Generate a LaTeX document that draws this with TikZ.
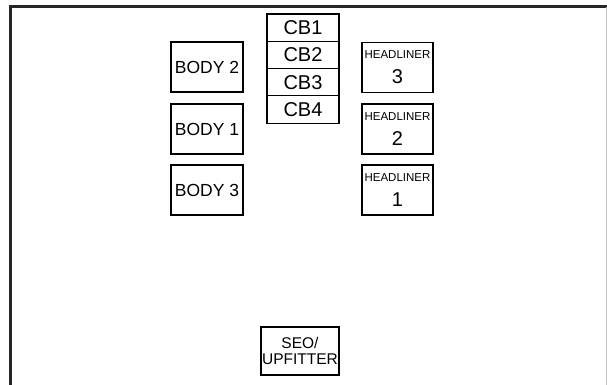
\documentclass[tikz,border=0pt]{standalone}
\usepackage{fontspec}
\setmainfont{Liberation Sans}
\begin{document}
\begin{tikzpicture}[x=1pt,y=-1pt,
  fusebox/.style={draw=black,line width=1.3pt,rectangle,inner sep=0pt,align=center},
  bodybox/.style={fusebox,minimum width=72pt,minimum height=50pt,font=\fontsize{17.5}{20}\selectfont},
  hlbox/.style={fusebox,minimum width=71pt,minimum height=50pt,font=\fontsize{11.5}{25}\selectfont},
  cbbox/.style={fusebox,minimum width=72pt,minimum height=27.3pt,font=\fontsize{20}{22}\selectfont},
  seobox/.style={fusebox,minimum width=78pt,minimum height=48pt,font=\fontsize{15.5}{16}\selectfont},
  framepen/.style={line width=2.8pt,color=black!85,line cap=rect}]
\useasboundingbox (0,0) rectangle (607,385);
% outer frame (open at bottom and right)
\coordinate (fbl) at (10.5,385);
\coordinate (ftl) at (10.5,6.2);
\coordinate (ftr) at (607,6.2);
\draw[framepen] (fbl) -- (ftl) -- (ftr);
\coordinate (rt) at (606.4,7.5);
\coordinate (rb) at (606.4,385);
\draw[line width=0.8pt,black!25] (rt) -- (rb);
% body boxes
\node[bodybox] (b2) at (207,67) {BODY 2};
\node[bodybox] (b1) at (207,129) {BODY 1};
\node[bodybox] (b3) at (207,190) {BODY 3};
% circuit breakers
\node[cbbox] (cb1) at (303,27.6) {CB1};
\node[cbbox] (cb2) at (303,54.9) {CB2};
\node[cbbox] (cb3) at (303,82.2) {CB3};
\node[cbbox] (cb4) at (303,109.5) {CB4};
% headliner boxes
\node[hlbox] (h3) at (397.5,67.5) {HEADLINER\\{\fontsize{20}{25}\selectfont 3}};
\node[hlbox] (h2) at (397.5,129) {HEADLINER\\{\fontsize{20}{25}\selectfont 2}};
\node[hlbox] (h1) at (397.5,190) {HEADLINER\\{\fontsize{20}{25}\selectfont 1}};
% SEO / upfitter
\node[seobox] (seo) at (300,351) {SEO/\\UPFITTER};
\end{tikzpicture}
\end{document}
